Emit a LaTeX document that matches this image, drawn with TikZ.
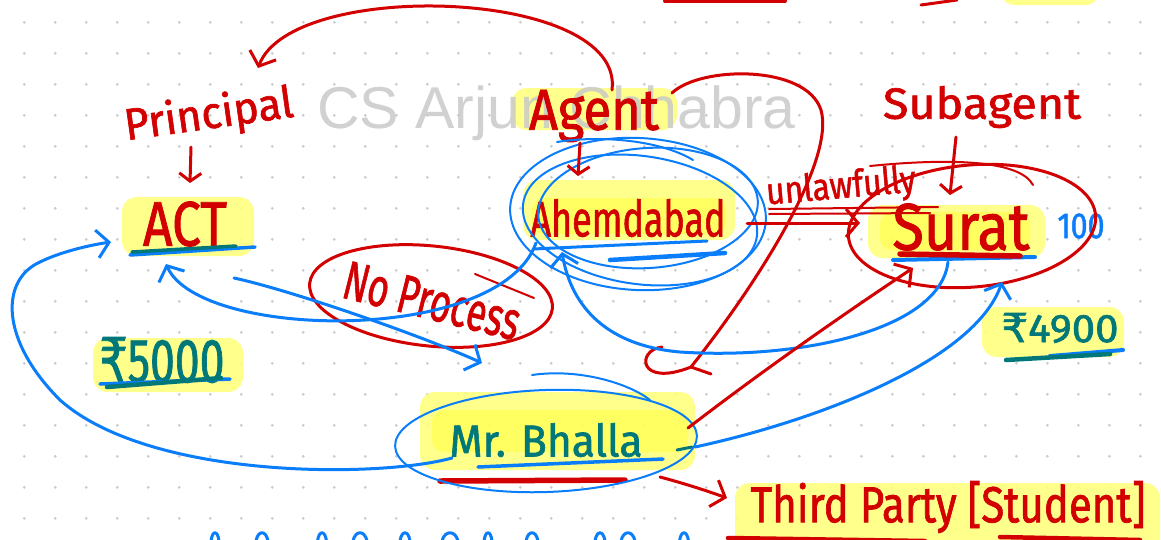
\documentclass[tikz,border=0pt]{standalone}
\usepackage{fontspec}
\usepackage{graphicx}
\setmainfont{Fira Sans}
\newfontfamily\handfont{Fira Sans}[FakeBold=1.5]
\newfontfamily\markfont{Liberation Sans}
\newfontfamily\rupeefont{DejaVu Sans}[FakeBold=1.5]
\usetikzlibrary{arrows.meta}
\definecolor{inkred}{HTML}{D20000}
\definecolor{inkblue}{HTML}{0A7DFA}
\definecolor{inkteal}{HTML}{00787A}
\definecolor{hilite}{HTML}{FFFF80}
\definecolor{hilitedeep}{HTML}{FFFF30}
\definecolor{dotgray}{HTML}{CBCBCB}
% hand lettering squeezed into a given width and total height
\newcommand{\hw}[3]{\resizebox*{#1}{#2}{#3}}
\tikzset{
  ink/.style={line width=3pt, line cap=round, line join=round},
  redpen/.style={ink, draw=inkred},
  bluepen/.style={ink, draw=inkblue},
  tealpen/.style={ink, draw=inkteal},
  finered/.style={draw=inkred, line width=2pt, line cap=round, line join=round},
  fineblue/.style={draw=inkblue, line width=2pt, line cap=round, line join=round},
  hlbox/.style={fill=hilite, draw=none, rounded corners=15pt, opacity=0.9},
  deephl/.style={fill=hilitedeep, draw=none, rounded corners=12pt, opacity=0.45},
  word/.style={inner sep=0pt, outer sep=0pt, font=\handfont\fontsize{40}{44}\selectfont},
  redword/.style={word, text=inkred},
  tealword/.style={word, text=inkteal},
  blueword/.style={word, text=inkblue},
  barb/.style={-{Straight Barb[length=12pt, width=28pt, line width=3pt]}},
  smallbarb/.style={-{Straight Barb[length=8pt, width=22pt, line width=3pt]}},
  faded/.style={anchor=base, text=black!21, inner sep=0pt,
                font=\markfont\fontsize{59}{60}\selectfont},
}
\begin{document}
\begin{tikzpicture}[x=1pt, y=-1pt]
\useasboundingbox (0,0) rectangle (1161,539);
\fill[white] (0,0) rectangle (1161,539);

% dotted notebook paper
\foreach \i in {0,...,36}{
  \foreach \j in {0,...,16}{
    \fill[dotgray] (24.3+31*\i, 22.3+31*\j) circle (1.5pt);
  }
}

% highlighter marks
\fill[hlbox] (122,197) rectangle (254,256);
\fill[hlbox] (93,338) rectangle (243,392);
\fill[hlbox] (512,88) rectangle (677,130);
\fill[hlbox] (523,180) rectangle (735,240);
\fill[deephl] (532,198) rectangle (726,234);
\fill[hlbox] (868,205) rectangle (1045,258);
\fill[deephl] (880,212) rectangle (1030,250);
\fill[hlbox] (982,307) rectangle (1124,357);
\fill[hlbox] (420,392) rectangle (695,470);
\fill[deephl] (432,410) rectangle (688,452);
\fill[hlbox] (735,483) rectangle (1160,560);
\fill[hlbox] (1000,-20) rectangle (1100,5);

% faded channel name across the page
\node[faded, opacity=0.85] (watermark) at (556.5,128) {CS Arjun Chhabra};

% strokes cut by the top edge
\draw[redpen, line width=4pt] (665,1) -- (785,1);
\draw[redpen] (921,5) -- (957,0);

% labels
\node[redword, rotate=8] (principal) at (209,116) {\hw{170pt}{44pt}{Principal}};
\node[redword] (act) at (185,224) {\hw{84pt}{45pt}{ACT}};
\node[redword] (agent) at (594,116) {\hw{130pt}{52pt}{Agent}};
\node[redword] (ahm) at (628,218) {\hw{195pt}{38pt}{Ahemdabad}};
\node[redword, rotate=5] (unlaw) at (841,188) {\hw{150pt}{36pt}{unlawfully}};
\node[redword] (subagent) at (982,107) {\hw{198pt}{42pt}{Subagent}};
\node[redword] (surat) at (961,227) {\hw{137pt}{47pt}{Surat}};
\node[blueword] (hundred) at (1081,226) {\hw{47pt}{25pt}{100}};
\node[redword, rotate=-14] (noproc) at (432,301) {\hw{180pt}{38pt}{No Process}};
\node[tealword] (rsfive) at (162,360) {\hw{125pt}{46pt}{{\rupeefont ₹}5000}};
\node[tealword] (rsfour) at (1060,328) {\hw{117pt}{30pt}{{\rupeefont ₹}4900}};
\node[tealword] (bhalla) at (546,440) {\hw{193pt}{34pt}{Mr. Bhalla}};
\node[redword] (third) at (948,507) {\hw{395pt}{52pt}{Third Party [Student]}};

% underlines
\draw[bluepen, line width=3.5pt] (130,255) -- (255,247);
\draw[tealpen, line width=3.5pt] (132,252) -- (236,246);
\draw[bluepen, line width=3.5pt] (100,384) -- (230,379);
\draw[tealpen, line width=4.5pt] (107,387) -- (221,378);
\draw[bluepen, line width=3pt] (533,249) -- (707,241);
\draw[bluepen, line width=4.5pt] (610,260) -- (725,253);
\draw[bluepen, line width=4pt] (893,260) -- (1035,257);
\draw[redpen, line width=5.5pt] (900,254) -- (1020,256);
\draw[bluepen, line width=4pt] (1050,356) -- (1123,350);
\draw[tealpen, line width=4.5pt] (1006,360) -- (1110,354);
\draw[bluepen, line width=3.5pt] (478,467) -- (663,459);
\draw[redpen, line width=5.5pt] (440,481) -- (625,480);
\draw[tealpen] (677,450) -- (692,447);
\draw[redpen, line width=4.5pt] (728,538) -- (925,541);
\draw[redpen, line width=4.5pt] (1000,537) -- (1140,540);

% rings around the places
\draw[fineblue, rotate around={-3:(638,214)}] (638,214) ellipse (128 and 76);
\draw[fineblue, rotate around={-8:(640,220)}] (640,220) ellipse (118 and 64);
\draw[fineblue, rotate around={4:(648,208)}] (648,208) ellipse (110 and 60);
\draw[fineblue] (557,142) .. controls (600,135) and (660,140) .. (693,160);
\draw[redpen, rotate around={5:(972,226)}] (972,226) ellipse (124 and 61);
\draw[finered] (870,166) .. controls (950,158) and (1020,160) .. (1033,185);
\draw[redpen, rotate around={-6:(431,296)}] (431,296) ellipse (122 and 50);
\draw[finered] (475,274) -- (534,298);
\draw[fineblue, rotate around={2:(546,441)}] (546,441) ellipse (151 and 51);
\draw[fineblue] (532,375) .. controls (580,368) and (630,384) .. (650,400);

% pointers to the roles
\coordinate (agenttop) at (612,90);
\coordinate (principaltip) at (258,68);
\draw[redpen, barb] (agenttop) .. controls (625,-12) and (292,-22) .. (principaltip);
\coordinate (principalfoot) at (191,147);
\coordinate (acthead) at (190,183);
\draw[redpen, smallbarb] (principalfoot) -- (acthead);
\coordinate (agentfoot) at (580,143);
\coordinate (ahmhead) at (578,176);
\draw[redpen, smallbarb] (agentfoot) -- (ahmhead);
\coordinate (subfoot) at (956,137);
\coordinate (surathead) at (950,195);
\draw[redpen, smallbarb] (subfoot) -- (surathead);

% unlawful delegation to Surat
\coordinate (ahmeast) at (747,223);
\coordinate (suratwest) at (860,223);
\draw[redpen, barb] (ahmeast) -- (suratwest);
\draw[finered] (769,209) -- (938,207);
\draw[finered] (769,214) -- (930,213);

% long red loop with its curl
\coordinate (agentright) at (672,93);
\coordinate (curlend) at (691,367);
\draw[redpen] (agentright) .. controls (700,66) and (806,64) .. (821,110)
  .. controls (835,160) and (760,280) .. (curlend);
\draw[redpen] (662,347) .. controls (636,350) and (638,388) .. (curlend) -- (711,374);

% money and process flows
\coordinate (suratsw) at (948,262);
\coordinate (ahmsw) at (562,252);
\draw[bluepen, barb] (suratsw) .. controls (940,330) and (800,360) .. (680,352)
  .. controls (600,345) and (570,300) .. (ahmsw);
\coordinate (ahmwest) at (536,243);
\coordinate (actfoot) at (166,264);
\draw[bluepen, barb] (ahmwest) .. controls (500,345) and (200,340) .. (actfoot);
\coordinate (acteast) at (234,278);
\coordinate (bhallatop) at (482,363);
\draw[bluepen, barb] (acteast) .. controls (290,290) and (420,335) .. (bhallatop);
\coordinate (bhallawest) at (452,458);
\coordinate (actwest) at (111,242);
\draw[bluepen, barb] (bhallawest) .. controls (380,478) and (150,480) .. (60,400)
  .. controls (0,340) and (0,280) .. (40,262)
  .. controls (60,252) and (90,245) .. (actwest);
\coordinate (bhallaeast) at (695,447);
\coordinate (suratse) at (1002,282);
\draw[bluepen, barb] (bhallaeast) .. controls (820,420) and (975,360) .. (suratse);
\coordinate (bhallane) at (688,428);
\coordinate (suratfoot) at (913,268);
\draw[redpen, barb] (bhallane) .. controls (770,365) and (850,310) .. (suratfoot);
\coordinate (bhallase) at (660,477);
\coordinate (thirdwest) at (727,498);
\draw[redpen, barb] (bhallase) .. controls (690,485) and (710,492) .. (thirdwest);

% handwriting cut by the bottom edge
\foreach \x/\w in {215/8,262/12,322/9,360/14,405/10,450/16,488/8,532/12,600/10,628/14,684/9}{
  \draw[bluepen] (\x-\w/2,541) .. controls (\x-\w/3,530) and (\x+\w/3,530) .. (\x+\w/2,541);
}
\end{tikzpicture}
\end{document}
